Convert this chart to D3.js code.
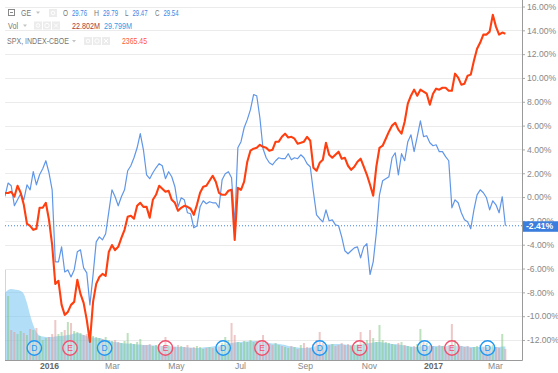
<!DOCTYPE html>
<html>
<head>
<meta charset="utf-8">
<script src="https://cdn.jsdelivr.net/npm/d3@7/dist/d3.min.js"></script>
<style>
  body { margin: 0; background: #fff; }
  svg { display: block; font-family: "Liberation Sans", Arial, sans-serif; }
</style>
</head>
<body>
<div id="chart"></div>
<script>
var w = 558,
	h = 373;

//Data: one point every 3 days, % change since start
var dates = [
  "2015-11-20","2015-11-23","2015-11-26","2015-11-29","2015-12-02","2015-12-05","2015-12-08","2015-12-11","2015-12-14","2015-12-17",
  "2015-12-20","2015-12-23","2015-12-26","2015-12-29","2016-01-01","2016-01-04","2016-01-07","2016-01-10","2016-01-13","2016-01-16",
  "2016-01-19","2016-01-22","2016-01-25","2016-01-28","2016-01-31","2016-02-03","2016-02-06","2016-02-09","2016-02-12","2016-02-15",
  "2016-02-18","2016-02-21","2016-02-24","2016-02-27","2016-03-01","2016-03-04","2016-03-07","2016-03-10","2016-03-13","2016-03-16",
  "2016-03-19","2016-03-22","2016-03-25","2016-03-28","2016-03-31","2016-04-03","2016-04-06","2016-04-09","2016-04-12","2016-04-15",
  "2016-04-18","2016-04-21","2016-04-24","2016-04-27","2016-04-30","2016-05-03","2016-05-06","2016-05-09","2016-05-12","2016-05-15",
  "2016-05-18","2016-05-21","2016-05-24","2016-05-27","2016-05-30","2016-06-02","2016-06-05","2016-06-08","2016-06-11","2016-06-14",
  "2016-06-17","2016-06-20","2016-06-23","2016-06-26","2016-06-29","2016-07-02","2016-07-05","2016-07-08","2016-07-11","2016-07-14",
  "2016-07-17","2016-07-20","2016-07-23","2016-07-26","2016-07-29","2016-08-01","2016-08-04","2016-08-07","2016-08-10","2016-08-13",
  "2016-08-16","2016-08-19","2016-08-22","2016-08-25","2016-08-28","2016-08-31","2016-09-03","2016-09-06","2016-09-09","2016-09-12",
  "2016-09-15","2016-09-18","2016-09-21","2016-09-24","2016-09-27","2016-09-30","2016-10-03","2016-10-06","2016-10-09","2016-10-12",
  "2016-10-15","2016-10-18","2016-10-21","2016-10-24","2016-10-27","2016-10-30","2016-11-02","2016-11-05","2016-11-08","2016-11-11",
  "2016-11-14","2016-11-17","2016-11-20","2016-11-23","2016-11-26","2016-11-29","2016-12-02","2016-12-05","2016-12-08","2016-12-11",
  "2016-12-14","2016-12-17","2016-12-20","2016-12-23","2016-12-26","2016-12-29","2017-01-01","2017-01-04","2017-01-07","2017-01-10",
  "2017-01-13","2017-01-16","2017-01-19","2017-01-22","2017-01-25","2017-01-28","2017-01-31","2017-02-03","2017-02-06","2017-02-09",
  "2017-02-12","2017-02-15","2017-02-18","2017-02-21","2017-02-24","2017-02-27","2017-03-02","2017-03-05","2017-03-08","2017-03-11"
];

var geChange = [
  0.05, 1.18, 0.95, -0.73, -0.23, 0.28, -0.23, 1.03, 0.61, 2.13,
  1.03, 1.87, 2.38, 3.05, 2.04, 0.61, -5.44, -5.44, -4.18, -6.29,
  -6.12, -6.71, -6.12, -4.60, -4.43, -5.94, -6.36, -9.05, -6.53, -3.76,
  -3.34, -3.59, -3.08, -1.24, 0.61, 0.03, -0.73, 0.03, 0.61, 2.21,
  2.63, 3.30, 4.14, 5.32, 3.97, 1.87, 1.54, 2.04, 2.46, 2.80,
  2.63, 1.54, 2.13, 1.71, 0.87, -0.82, -0.06, -0.23, -1.32, -1.40,
  -2.58, -2.42, -0.82, -0.31, -0.56, -0.39, -0.48, -0.48, -0.90, 1.45,
  1.96, 2.13, 1.62, -2.33, 4.14, 4.65, 5.82, 6.50, 7.34, 8.60,
  8.51, 6.66, 4.06, 3.30, 2.88, 2.71, 3.05, 3.30, 3.22, 3.22,
  3.64, 3.13, 3.30, 3.22, 3.55, 3.30, 2.80, 2.55, 0.45, -1.49,
  -1.82, -2.08, -1.07, -1.99, -1.91, -2.33, -2.41, -3.34, -4.51, -4.76,
  -4.51, -4.26, -4.18, -5.10, -4.18, -3.92, -6.50, -5.44, -3.00, 0.19,
  1.37, 1.54, 1.71, 3.30, 3.72, 1.87, 3.64, 3.05, 4.65, 5.23,
  3.81, 5.07, 6.40, 5.07, 5.15, 4.56, 4.31, 4.39, 3.81, 3.81,
  3.39, 3.05, -0.90, -0.23, -0.48, -1.32, -1.91, -2.08, -2.66, -1.07,
  0.19, 0.61, 0.36, -0.06, -1.07, -0.31, -0.65, -1.32, 0.03, -2.41
];

var spxChange = [
  0.34, 0.34, 0.45, 0.03, 0.95, 0.36, -0.65, -2.24, -2.41, -2.75,
  -2.66, -0.90, -0.90, -0.48, -1.91, -4.01, -7.29, -7.03, -9.05, -9.89,
  -9.64, -9.05, -8.80, -6.95, -8.13, -8.88, -10.31, -12.16, -8.80, -7.29,
  -6.71, -6.45, -6.62, -4.61, -4.03, -4.45, -4.18, -3.42, -2.75, -1.66,
  -1.57, -1.82, -0.73, -0.48, -0.82, -0.82, -1.74, -0.23, 0.19, 0.95,
  0.70, 0.45, 0.53, -0.23, -0.48, -1.15, -0.90, -0.73, -0.82, -0.98,
  -1.49, -0.65, 0.36, 0.87, 0.95, 1.37, 1.79, 1.29, 0.36, 0.19,
  0.19, 0.53, 0.61, -3.60, 0.78, 0.61, 1.29, 2.97, 3.89, 4.06,
  4.14, 4.39, 4.22, 4.14, 3.89, 3.97, 4.65, 4.65, 5.06, 5.32,
  5.00, 5.06, 4.90, 4.48, 4.56, 4.65, 5.06, 4.73, 2.46, 2.21,
  2.88, 3.13, 4.56, 3.55, 3.30, 3.55, 3.81, 3.22, 3.30, 2.63,
  2.29, 2.55, 2.97, 3.22, 2.55, 1.87, 1.03, 0.11, 2.55, 4.14,
  4.31, 4.90, 5.49, 6.00, 6.24, 5.66, 5.32, 6.32, 7.84, 8.51,
  9.02, 8.51, 9.02, 8.85, 8.68, 7.75, 8.68, 9.10, 9.02, 9.18,
  9.18, 8.93, 8.93, 10.36, 10.03, 9.44, 9.52, 10.19, 10.28, 11.45,
  12.46, 12.97, 13.64, 13.64, 13.89, 15.30, 14.31, 13.64, 13.81, 13.72
];

//GE volume, millions
var volume = [
  180, 128, 60, 56, 52, 58, 54, 50, 62, 60,
  64, 48, 40, 44, 46, 52, 80, 52, 56, 60,
  76, 74, 58, 56, 54, 50, 52, 60, 48, 46,
  44, 42, 46, 40, 38, 40, 36, 34, 38, 54,
  34, 32, 36, 42, 30, 30, 32, 28, 30, 32,
  28, 46, 30, 28, 26, 30, 28, 26, 30, 24,
  26, 28, 26, 22, 24, 26, 24, 22, 26, 34,
  46, 40, 74, 50, 36, 34, 38, 36, 40, 36,
  38, 34, 50, 36, 32, 30, 34, 30, 28, 26,
  24, 28, 26, 22, 30, 34, 26, 24, 32, 40,
  56, 34, 28, 30, 32, 28, 30, 34, 30, 32,
  28, 30, 32, 56, 36, 40, 60, 44, 36, 70,
  40, 36, 34, 32, 30, 34, 36, 30, 28, 26,
  28, 32, 62, 36, 34, 30, 28, 26, 30, 28,
  26, 30, 72, 40, 30, 28, 26, 28, 24, 26,
  28, 30, 26, 24, 28, 30, 26, 24, 52, 22
];

//Volume moving average, millions
var volumeMA = [
  134, 140, 142, 141, 140, 138, 132, 114, 90, 70,
  56, 49, 47, 46, 46, 46, 47, 48, 48, 49,
  50, 51, 53, 54, 52, 50, 48, 46, 45, 44,
  44, 42, 40, 38, 37, 36, 35, 34, 33, 33,
  32, 32, 31, 31, 30, 30, 30, 29, 29, 29,
  28, 28, 28, 27, 27, 26, 26, 26, 25, 25,
  24, 24, 24, 25, 26, 26, 27, 28, 29, 30,
  31, 33, 34, 35, 36, 36, 37, 37, 38, 38,
  38, 37, 36, 35, 34, 33, 33, 32, 31, 30,
  28, 27, 26, 25, 24, 24, 24, 25, 26, 28,
  29, 30, 31, 31, 32, 32, 32, 32, 31, 30,
  30, 30, 30, 31, 32, 33, 34, 35, 36, 36,
  35, 34, 33, 32, 32, 31, 30, 29, 28, 27,
  26, 26, 27, 28, 28, 28, 28, 28, 28, 28,
  28, 28, 29, 29, 28, 28, 27, 27, 26, 26,
  26, 26, 27, 27, 27, 27, 26, 26, 27, 27
];

//Dividend / earnings markers
var eventDates = ["2015-12-18","2016-01-21","2016-02-23","2016-04-21","2016-06-15","2016-07-22",
                  "2016-09-15","2016-10-23","2016-12-24","2017-01-19","2017-02-22"];
var eventTypes = ["D","E","D","E","D","E","D","E","D","E","D"];

//Axis ticks
var yTicks = [16, 14, 12, 10, 8, 6, 4, 2, 0, -2, -4, -6, -8, -10, -12];
var xTickDates = ["2016-01-01","2016-03-01","2016-05-01","2016-07-01","2016-09-01","2016-11-01","2017-01-01","2017-03-01"];
var xTickLabels = ["2016","Mar","May","Jul","Sep","Nov","2017","Mar"];

var lastGE = -2.41;

//Legend rows
var ohlcLabels = ["O","H","L","C"];
var ohlcValues = ["29.76","29.79","29.47","29.54"];
var volValues = ["22.802M","29.799M"];
var spxValue = "2365.45";

////////////////////////////////////////////
/////////// Scales ////////////////////////
////////////////////////////////////////////

var parseDate = d3.timeParse("%Y-%m-%d");
var plotLeft = 5,
	plotRight = 522,
	plotBottom = 360;

var x = d3.scaleTime()
	.domain([parseDate("2016-01-01"), parseDate("2017-01-01")])
	.range([49, 433]);

var y = d3.scaleLinear()
	.domain([-12, 16])
	.range([340, 6.5]);

var yVol = d3.scaleLinear()
	.domain([0, 200])
	.range([plotBottom, 260]);

var pts = dates.map(function(d, i){
	return {date: parseDate(d), ge: geChange[i], spx: spxChange[i], vol: volume[i], ma: volumeMA[i],
		up: i == 0 ? true : geChange[i] >= geChange[i-1]};
});

var svg = d3.select("#chart")
	.append("svg")
	.attr("width", w)
	.attr("height", h);

svg.append("clipPath")
	.attr("id", "plotclip")
	.append("rect")
	.attr("x", plotLeft)
	.attr("y", 0)
	.attr("width", plotRight - plotLeft)
	.attr("height", plotBottom);

//Gridlines
svg.append("g")
	.selectAll("line")
	.data(yTicks)
	.enter()
	.append("line")
	.attr("x1", plotLeft)
	.attr("x2", plotRight)
	.attr("y1", function(d){ return Math.round(y(d)) + 0.5; })
	.attr("y2", function(d){ return Math.round(y(d)) + 0.5; })
	.attr("stroke", "#ebebeb")
	.attr("stroke-width", 1.2);

var plot = svg.append("g").attr("clip-path", "url(#plotclip)");

//Volume moving average area
plot.append("path")
	.datum(pts)
	.attr("fill", "#72c3f0")
	.attr("fill-opacity", 0.55)
	.attr("d", d3.area()
		.x(function(d){ return x(d.date); })
		.y0(plotBottom)
		.y1(function(d){ return yVol(d.ma); })
		.curve(d3.curveMonotoneX));

//Volume bars
plot.append("g")
	.selectAll("rect")
	.data(pts)
	.enter()
	.append("rect")
	.attr("x", function(d){ return x(d.date) - 1; })
	.attr("y", function(d){ return yVol(d.vol); })
	.attr("width", 2)
	.attr("height", function(d){ return plotBottom - yVol(d.vol); })
	.attr("fill", function(d){ return d.up ? "#86c886" : "#e09a9a"; })
	.attr("fill-opacity", 0.55);

//Event markers
var ev = plot.append("g")
	.selectAll("g")
	.data(eventDates)
	.enter()
	.append("g")
	.attr("transform", function(d){ return "translate(" + x(parseDate(d)) + ",348)"; });
ev.append("circle")
	.attr("r", 7.2)
	.attr("fill", "rgba(255,255,255,0.25)")
	.attr("stroke", function(d, i){ return eventTypes[i] == "D" ? "#2196f3" : "#f0506e"; })
	.attr("stroke-width", 1.4);
ev.append("text")
	.attr("text-anchor", "middle")
	.attr("y", 3)
	.attr("font-size", "8.5px")
	.attr("fill", function(d, i){ return eventTypes[i] == "D" ? "#2196f3" : "#f0506e"; })
	.text(function(d, i){ return eventTypes[i]; });

//Last value dotted line
plot.append("line")
	.attr("x1", plotLeft)
	.attr("x2", plotRight)
	.attr("y1", y(lastGE))
	.attr("y2", y(lastGE))
	.attr("stroke", "#3f7fe0")
	.attr("stroke-width", 1)
	.attr("stroke-dasharray", "1,2");

//GE line
plot.append("path")
	.datum(pts)
	.attr("fill", "none")
	.attr("stroke", "#6096e8")
	.attr("stroke-width", 1.2)
	.attr("stroke-linejoin", "round")
	.attr("d", d3.line()
		.x(function(d){ return x(d.date); })
		.y(function(d){ return y(d.ge); }));

//SPX line
plot.append("path")
	.datum(pts)
	.attr("fill", "none")
	.attr("stroke", "#ff3f0f")
	.attr("stroke-width", 2.1)
	.attr("stroke-linejoin", "round")
	.attr("d", d3.line()
		.x(function(d){ return x(d.date); })
		.y(function(d){ return y(d.spx); }));

////////////////////////////////////////////
/////////// Axes //////////////////////////
////////////////////////////////////////////

var yAxis = svg.append("g")
	.attr("transform", "translate(" + plotRight + ",0)")
	.call(d3.axisRight(y)
		.tickValues(yTicks)
		.tickSize(3)
		.tickPadding(2)
		.tickFormat(function(d){ return d.toFixed(2) + "%"; }));
yAxis.select(".domain").remove();
yAxis.selectAll("line").attr("stroke", "#aaa");
yAxis.selectAll("text")
	.attr("fill", "#888")
	.attr("font-size", "8.6px")
	.attr("font-family", "Liberation Sans, Arial, sans-serif");

var xAxis = svg.append("g")
	.attr("transform", "translate(0," + plotBottom + ")")
	.call(d3.axisBottom(x)
		.tickValues(xTickDates.map(parseDate))
		.tickSize(0)
		.tickPadding(3)
		.tickFormat(function(d, i){ return xTickLabels[i]; }));
xAxis.select(".domain").remove();
xAxis.selectAll("text")
	.attr("fill", function(d, i){ return xTickLabels[i].length == 4 ? "#666" : "#888"; })
	.attr("font-weight", function(d, i){ return xTickLabels[i].length == 4 ? "bold" : "normal"; })
	.attr("font-size", "8.6px")
	.attr("font-family", "Liberation Sans, Arial, sans-serif");

//Axis frame lines
svg.append("line")
	.attr("x1", plotRight + 0.5).attr("x2", plotRight + 0.5)
	.attr("y1", 0).attr("y2", plotBottom + 0.5)
	.attr("stroke", "#9a9a9a");
svg.append("line")
	.attr("x1", plotLeft).attr("x2", plotRight + 0.5)
	.attr("y1", plotBottom + 0.5).attr("y2", plotBottom + 0.5)
	.attr("stroke", "#9a9a9a");

//Last value label (sits over the lower half of the -2.00% tick label, as in the original)
svg.append("rect")
	.attr("x", plotRight + 1)
	.attr("y", y(lastGE) - 4.5)
	.attr("width", w - plotRight - 1)
	.attr("height", 10.5)
	.attr("fill", "#3b7ddd");
svg.append("text")
	.attr("x", plotRight + 4)
	.attr("y", y(lastGE) + 3.6)
	.attr("font-size", "8.6px")
	.attr("font-weight", "bold")
	.attr("fill", "#fff")
	.text(lastGE.toFixed(2) + "%");

////////////////////////////////////////////
/////////// Legend ////////////////////////
////////////////////////////////////////////

var legend = svg.append("g")
	.attr("class", "legend")
	.attr("font-size", "8.2px");

//Legend text is narrow in the original, so squeeze each piece to its width
function legendText(x0, y0, color, str, len) {
	legend.append("text")
		.attr("x", x0)
		.attr("y", y0)
		.attr("fill", color)
		.attr("textLength", len)
		.attr("lengthAdjust", "spacingAndGlyphs")
		.text(str);
}

function arrow(x0, y0) {
	legend.append("path")
		.attr("d", "M" + x0 + "," + y0 + "l4,0l-2,2.5z")
		.attr("fill", "#c4c4c4");
}

function iconBox(x0, y0, kind) {
	legend.append("rect")
		.attr("x", x0).attr("y", y0)
		.attr("width", 8).attr("height", 8)
		.attr("fill", "#ececec");
	if (kind == "x") {
		legend.append("path")
			.attr("d", "M" + (x0+2) + "," + (y0+2) + "L" + (x0+6) + "," + (y0+6) + "M" + (x0+6) + "," + (y0+2) + "L" + (x0+2) + "," + (y0+6))
			.attr("stroke", "#fff").attr("stroke-width", 1);
	} else {
		legend.append("circle")
			.attr("cx", x0 + 4).attr("cy", y0 + 4).attr("r", kind == "gear" ? 2.2 : 1.8)
			.attr("fill", "none").attr("stroke", "#fff").attr("stroke-width", 1);
	}
}

//Row 1: GE
legend.append("rect")
	.attr("x", 8.5).attr("y", 9.5).attr("width", 6).attr("height", 6)
	.attr("fill", "none").attr("stroke", "#888");
legend.append("line")
	.attr("x1", 10).attr("x2", 13).attr("y1", 12.5).attr("y2", 12.5)
	.attr("stroke", "#888");
legendText(21, 15.5, "#777", "GE", 10);
arrow(36, 11.5);
iconBox(49, 9, "eye");
var ohlcX = [63, 94, 125, 155];
var ohlcW = [5, 5, 3.5, 4.5];
ohlcLabels.forEach(function(l, i){
	legendText(ohlcX[i], 15.5, "#777", l, ohlcW[i]);
	legendText(ohlcX[i] + ohlcW[i] + 4, 15.5, "#3d86e6", ohlcValues[i], 15);
});

//Row 2: Volume
legendText(8, 28.5, "#777", "Vol", 10);
arrow(23, 24.5);
iconBox(34, 21.5, "eye");
iconBox(43, 21.5, "gear");
iconBox(52, 21.5, "x");
legendText(72, 28.5, "#a3403d", volValues[0], 28);
legendText(104, 28.5, "#27a2e8", volValues[1], 28);

//Row 3: SPX
legendText(7, 44, "#777", "SPX, INDEX-CBOE", 62);
arrow(72, 40);
iconBox(84, 37, "eye");
iconBox(93, 37, "gear");
iconBox(102, 37, "x");
legendText(122, 44, "#ff5a36", spxValue, 25);
</script>
</body>
</html>
